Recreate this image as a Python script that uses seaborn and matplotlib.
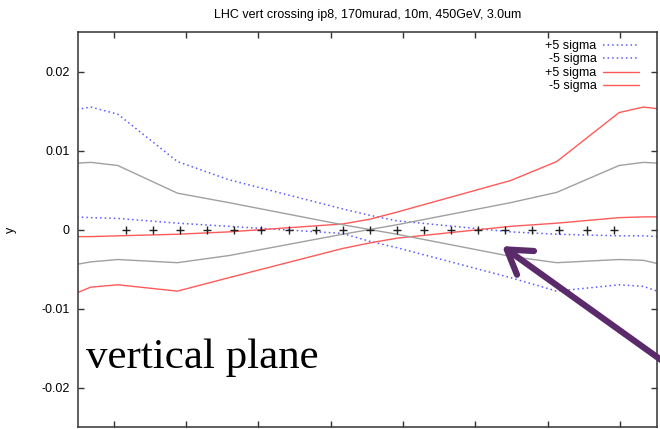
import numpy as np
import pandas as pd
import seaborn as sns
import matplotlib.pyplot as plt

# s positions (arbitrary units, IP at 0) where the optics values were read
s = [-10.8, -10.3, -9.3, -7.1, -5.2, -1.0, 0.0, 1.0, 5.2, 6.9, 9.2, 10.1, 10.6]

# beam 1 (blue): orbit and +/-5 sigma envelope
b1_orbit = [0.0084, 0.0085, 0.0081, 0.0046, 0.0034, 0.0006, 0.0, -0.0006, -0.0034, -0.0042, -0.0038, -0.0039, -0.0043]
b1_plus = [0.0152, 0.0155, 0.0146, 0.0086, 0.0063, 0.0026, 0.0018, 0.0011, -0.0003, -0.0006, -0.0008, -0.0008, -0.0009]
b1_minus = [0.0016, 0.0015, 0.0014, 0.0008, 0.0004, -0.0005, -0.0015, -0.0023, -0.0061, -0.0078, -0.0070, -0.0072, -0.0078]

# beam 2 (red): orbit and +/-5 sigma envelope
b2_orbit = [-0.0044, -0.0041, -0.0038, -0.0042, -0.0033, -0.0006, 0.0, 0.0006, 0.0034, 0.0047, 0.0081, 0.0085, 0.0084]
b2_plus = [-0.0009, -0.0009, -0.0008, -0.0006, -0.0003, 0.0007, 0.0013, 0.0022, 0.0062, 0.0086, 0.0148, 0.0155, 0.0153]
b2_minus = [-0.0080, -0.0073, -0.0070, -0.0078, -0.0061, -0.0024, -0.0017, -0.0011, 0.0004, 0.0008, 0.0015, 0.0016, 0.0016]

# element markers along the reference line
marker_s = list(range(-9, 10))
marker_y = [0.0] * len(marker_s)

title = "LHC vert crossing ip8, 170murad, 10m, 450GeV, 3.0um"

sns.set_style("ticks")
plt.rcParams['font.family'] = ['Liberation Sans', 'DejaVu Sans']
plt.rcParams['axes.unicode_minus'] = False
plt.rcParams['text.color'] = 'black'
plt.rcParams['axes.labelcolor'] = 'black'

df = pd.DataFrame({"s": s, "b1_orbit": b1_orbit, "b1_plus": b1_plus, "b1_minus": b1_minus,
                   "b2_orbit": b2_orbit, "b2_plus": b2_plus, "b2_minus": b2_minus})
marks = pd.DataFrame({"s": marker_s, "y": marker_y})

fig = plt.figure(figsize=(6.6, 4.29), dpi=100)
ax = fig.add_axes([78 / 660, 2 / 429, 579 / 660, 395 / 429])

blue = "#5a5aff"
red = "#ff5a5a"
grey = "#a0a0a0"

sns.lineplot(data=df, x="s", y="b1_plus", ax=ax, color=blue, lw=1.1,
             label="+5 sigma", linestyle=(0, (1, 2)))
sns.lineplot(data=df, x="s", y="b1_minus", ax=ax, color=blue, lw=1.1,
             label="-5 sigma", linestyle=(0, (1, 2)))
sns.lineplot(data=df, x="s", y="b2_plus", ax=ax, color=red, lw=1.0, label="+5 sigma")
sns.lineplot(data=df, x="s", y="b2_minus", ax=ax, color=red, lw=1.0, label="-5 sigma")
sns.lineplot(data=df, x="s", y="b1_orbit", ax=ax, color=grey, lw=1.0, legend=False)
sns.lineplot(data=df, x="s", y="b2_orbit", ax=ax, color=grey, lw=1.0, legend=False)
sns.scatterplot(data=marks, x="s", y="y", ax=ax, marker="+", color="#222222", s=30,
                linewidth=1.0, legend=False, zorder=5)

ax.set_xlim(-10.77, 10.6)
ax.set_ylim(-0.025, 0.025)
ax.set_xticks(np.linspace(-9.45, 9.24, 8))
ax.set_yticks([-0.02, -0.01, 0, 0.01, 0.02])
ax.set_yticklabels(["-0.02", "-0.01", "0", "0.01", "0.02"])
ax.tick_params(direction="in", length=4, width=1, top=True, right=True,
               labelbottom=False, labelsize=9, pad=6, color="#333333", labelcolor="black")
for sp in ax.spines.values():
    sp.set_color("#333333")
    sp.set_linewidth(1.1)

ax.set_xlabel("")
ax.set_ylabel("y", fontsize=9)
ax.yaxis.set_label_coords(-0.105, 0.5)
ax.set_title(title, fontsize=9, pad=10)

ax.legend(loc="upper right", bbox_to_anchor=(0.969, 0.98), frameon=False, markerfirst=False,
          fontsize=9, handlelength=2.9, handletextpad=0.5, labelspacing=0.12,
          borderpad=0, borderaxespad=0)

ax.text(0.013, 0.15, "vertical plane", transform=ax.transAxes, fontsize=31,
        family=["Liberation Serif", "DejaVu Serif"], va="baseline", ha="left", color="black")

ax.annotate("", xy=(4.8, -0.0019), xytext=(11.6, -0.0186), annotation_clip=False,
            arrowprops=dict(arrowstyle="->,head_length=0.55,head_width=0.35",
                            mutation_scale=30, lw=4.5, color="#5b2a6b"))

fig.savefig("out.png", dpi=100)
